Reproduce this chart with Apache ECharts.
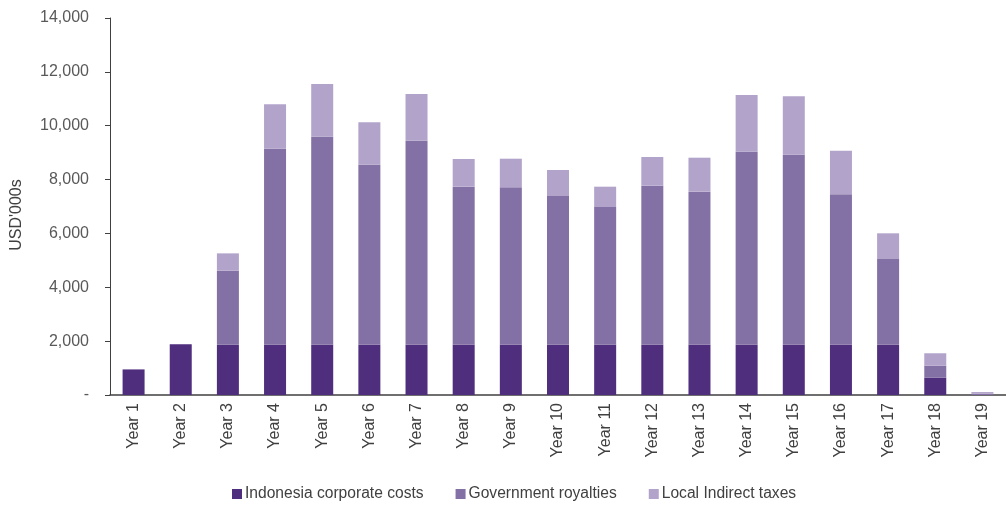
<!DOCTYPE html>
<html>
<head>
<meta charset="utf-8">
<script src="https://cdn.jsdelivr.net/npm/echarts@6/dist/echarts.min.js"></script>
<style>
  html, body { margin: 0; padding: 0; background: #ffffff; }
  #chart { width: 1006px; height: 506px; }
</style>
</head>
<body>
<div id="chart"></div>
<script>
// Annual cost breakdown, USD'000s
const years = ['Year 1','Year 2','Year 3','Year 4','Year 5','Year 6','Year 7','Year 8','Year 9','Year 10',
               'Year 11','Year 12','Year 13','Year 14','Year 15','Year 16','Year 17','Year 18','Year 19'];

const corporateCosts = [950, 1880, 1870, 1870, 1870, 1870, 1870, 1870, 1870, 1870,
                        1870, 1870, 1870, 1870, 1870, 1870, 1870, 640, 0];

const royalties = [0, 0, 2745, 7277, 7723, 6683, 7574, 5866, 5842, 5520,
                   5111, 5903, 5680, 7165, 7055, 5582, 3180, 450, 50];

const indirectTaxes = [0, 0, 645, 1648, 1957, 1572, 1734, 1028, 1063, 965,
                       755, 1065, 1262, 2105, 2165, 1620, 954, 460, 60];

const seriesNames = ['Indonesia corporate costs', 'Government royalties', 'Local Indirect taxes'];
const seriesColors = ['#4f2e7e', '#8370a5', '#b2a3ca'];
const yAxisTitle = "USD'000s";

const axisFont = 'Liberation Sans, Arial, sans-serif';

const chart = echarts.init(document.getElementById('chart'), null, { renderer: 'canvas' });

const seriesData = [corporateCosts, royalties, indirectTaxes];

chart.setOption({
  animation: false,
  textStyle: { fontFamily: axisFont },
  grid: { left: 110, top: 18, width: 908, bottom: 111, containLabel: false },
  legend: {
    left: 232,
    bottom: 4,
    padding: 0,
    itemWidth: 10,
    itemHeight: 10,
    itemGap: 32,
    icon: 'rect',
    textStyle: { fontSize: 15.6, color: '#404040', fontFamily: axisFont, padding: [0, 0, 0, -2] },
    data: seriesNames
  },
  graphic: [{
    type: 'text',
    x: 17,
    y: 215,
    rotation: Math.PI / 2,
    style: {
      text: yAxisTitle,
      fontSize: 16,
      fontFamily: axisFont,
      fill: '#404040',
      align: 'center',
      verticalAlign: 'middle'
    }
  }],
  xAxis: {
    type: 'category',
    data: years,
    axisLine: { lineStyle: { color: '#404040', width: 1.5 } },
    axisTick: { show: false },
    axisLabel: { rotate: 90, fontSize: 16, color: '#404040', margin: 8, fontFamily: axisFont }
  },
  yAxis: {
    type: 'value',
    min: 0,
    max: 14000,
    interval: 2000,
    axisLine: { show: true, lineStyle: { color: '#404040', width: 1 } },
    axisTick: { show: true, length: 5, lineStyle: { color: '#404040' } },
    splitLine: { show: false },
    axisLabel: {
      fontSize: 16,
      color: '#595959',
      margin: 21,
      fontFamily: axisFont,
      formatter: v => v === 0 ? '-' : v.toLocaleString('en-US')
    }
  },
  series: seriesNames.map((name, i) => ({
    name: name,
    type: 'bar',
    stack: 'total',
    barWidth: 22,
    data: seriesData[i],
    itemStyle: { color: seriesColors[i] }
  }))
});
</script>
</body>
</html>
